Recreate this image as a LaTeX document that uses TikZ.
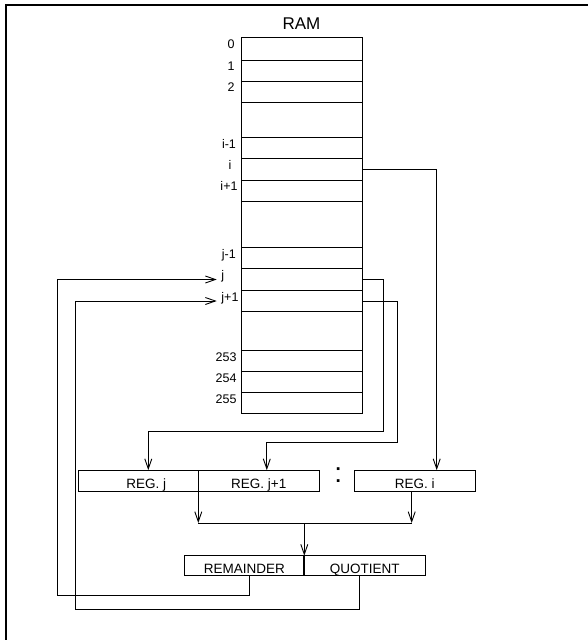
\documentclass[tikz,border=0pt]{standalone}
\usepackage{fontspec}
\setmainfont{Liberation Sans}
\usetikzlibrary{arrows.meta}
\begin{document}
\begin{tikzpicture}[x=1pt,y=-1pt, line width=0.9pt,
  cell/.style={draw, minimum width=121pt, inner sep=0pt, outer sep=0pt, anchor=north west},
  lab/.style={font=\fontsize{12.5}{14}\selectfont, inner sep=0pt, anchor=base},
  box/.style={draw, inner sep=0pt, outer sep=0pt, text height=15pt, text depth=0pt,
              font=\fontsize{13.5}{15}\selectfont},
  arr/.style={-{Straight Barb[length=10pt,width=7pt]}},
]
\useasboundingbox (0,0) rectangle (587,640);
% frame
\draw[line width=2pt] (6,641) -- (6,5) -- (588,5);
% title
\node[font=\fontsize{17}{20}\selectfont, anchor=base, inner sep=0pt] (ramtitle) at (301.5,29) {RAM};
% RAM cells
\node[cell, minimum height=22.7pt] (ram0)   at (241,37.3) {};
\node[cell, minimum height=21pt]   (ram1)   at (241,60) {};
\node[cell, minimum height=21.3pt] (ram2)   at (241,81) {};
\node[cell, minimum height=35pt]   (gapA)   at (241,102.3) {};
\node[cell, minimum height=21.4pt] (ramim)  at (241,137.3) {};
\node[cell, minimum height=21.3pt] (rami)   at (241,158.7) {};
\node[cell, minimum height=21.3pt] (ramip)  at (241,180) {};
\node[cell, minimum height=46.4pt] (gapB)   at (241,201.3) {};
\node[cell, minimum height=21pt]   (ramjm)  at (241,247.7) {};
\node[cell, minimum height=21.6pt] (ramj)   at (241,268.7) {};
\node[cell, minimum height=21.4pt] (ramjp)  at (241,290.3) {};
\node[cell, minimum height=38.6pt] (gapC)   at (241,311.7) {};
\node[cell, minimum height=21.4pt] (ram253) at (241,350.3) {};
\node[cell, minimum height=20.6pt] (ram254) at (241,371.7) {};
\node[cell, minimum height=21.4pt] (ram255) at (241,392.3) {};
% labels
\node[lab] (l0) at ([xshift=-10pt]ram0.west) {0};
\node[lab] (l1) at ([xshift=-10pt]ram1.west) {1};
\node[lab] (l2) at ([xshift=-10pt]ram2.west) {2};
\node[lab] (lim) at ([xshift=-12pt]ramim.west) {i-1};
\node[lab] (li) at ([xshift=-11pt]rami.west) {i};
\node[lab] (lip) at ([xshift=-12pt]ramip.west) {i+1};
\node[lab, anchor=base west] (ljm) at ([xshift=-19.5pt]ramjm.west) {j-1};
\node[lab, anchor=base west] (lj) at ([xshift=-20pt]ramj.west) {j};
\node[lab, anchor=base west] (ljp) at ([xshift=-20pt]ramjp.west) {j+1};
\node[lab, anchor=base east] (l253) at ([xshift=-4pt]ram253.west) {253};
\node[lab, anchor=base east] (l254) at ([xshift=-4pt]ram254.west) {254};
\node[lab, anchor=base east] (l255) at ([xshift=-4pt]ram255.west) {255};
\coordinate (tipj) at ([xshift=-24.3pt]ramj.west);
\coordinate (tipjp) at ([xshift=-24.3pt]ramjp.west);
% registers
\node[box, minimum width=120pt, minimum height=21.7pt] (regj) at (138.3,481) {\hspace*{16pt}REG. j};
\node[box, minimum width=121pt, minimum height=21.7pt] (regjp) at (258.8,481) {REG. j+1};
\node[box, minimum width=120.7pt, minimum height=21.7pt] (regi) at (414.7,481) {REG. i};
\node[font=\fontsize{28}{30}\selectfont, anchor=base, inner sep=0pt] (colon) at (338.3,482.5) {:};
% result
\node[box, minimum width=120pt, minimum height=20pt] (rem) at (244.3,565.7) {REMAINDER};
\node[box, minimum width=120.7pt, minimum height=20pt] (quo) at (364.65,565.7) {QUOTIENT};
\draw[line width=2pt] (rem.north east) -- (rem.south east);
% RAM to registers
\draw[arr] (rami.east) -| ([xshift=22pt]regi.north);
\draw[arr] (ramj.east) -| (383.5,431.7) -| ([xshift=10pt]regj.north);
\draw[arr] (ramjp.east) -| (397.7,442.7) -| ([xshift=8pt]regjp.north);
% bus
\coordinate (busL) at (198.3,523);
\coordinate (busR) at (411.7,523);
\coordinate (busM) at (304.3,523);
\draw[arr] (regj.south east) -- (busL);
\draw[arr] ([xshift=-3pt]regi.south) -- (busR);
\draw (busL) -- (busR);
\draw[arr] (busM) -- (rem.north east);
% feedback
\draw[arr] ([xshift=4.7pt]rem.south) |- (57.5,595) |- (tipj);
\draw[arr] ([xshift=-5.6pt]quo.south) |- (75,609.3) |- (tipjp);
\end{tikzpicture}
\end{document}
